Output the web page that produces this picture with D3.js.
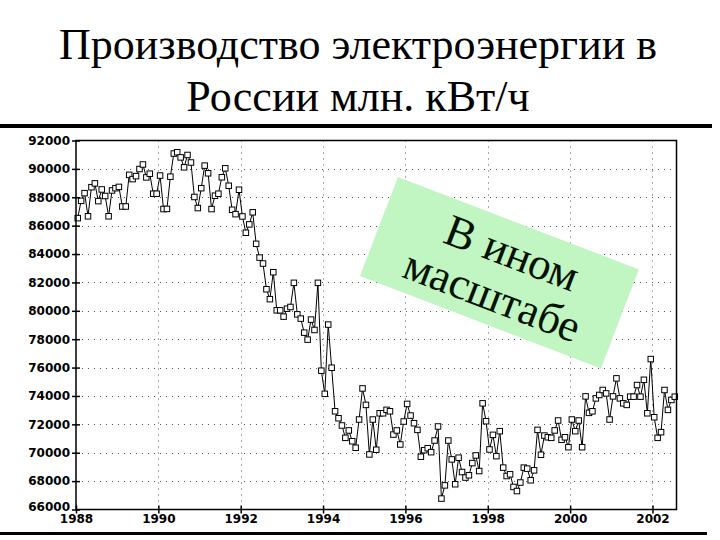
<!DOCTYPE html>
<html><head><meta charset="utf-8">
<script src="https://cdn.jsdelivr.net/npm/d3@7"></script>
<style>body{margin:0;background:#fff} svg{display:block}</style>
</head><body><svg id="c" width="720" height="540"></svg>
<script>
// Monthly data starting January 1988 (million kWh)
const startYear = 1988;
const values = [
 86530,87750,88290,86660,88710,88980,87730,88550,88090,86660,88480,88640,
 88730,87350,87350,89580,89280,89490,89990,90310,89400,89660,88250,88250,
 89530,87170,87180,89450,91080,91170,90810,90110,90980,90450,88020,87240,
 88640,90230,89690,87170,88110,88250,89410,90040,88810,87120,86810,88530,
 86650,85500,86090,86940,84720,83750,83330,81520,80820,82720,80035,80035,
 79590,80150,80270,81970,79750,79450,78460,77970,79380,78650,81970,75780,
 74150,79030,75990,72920,72430,71920,71050,71570,70810,70350,72340,74530,
 73370,69880,72340,70210,72780,72780,73020,72920,71280,71570,70580,72200,
 73440,72620,72080,71610,69720,70180,70320,70040,70860,71850,66770,67700,
 70860,69530,67780,69650,68640,68250,68410,69270,69810,68710,73480,72220,
 70230,71260,69760,71520,68950,68360,68480,67590,67300,67900,68950,68880,
 68060,68760,71610,69860,71210,71090,71050,71570,72270,70910,71090,70390,
 72340,71520,72270,70390,73970,72810,72920,73830,74070,74420,74180,72340,
 73970,75240,73830,73480,73370,73950,73950,74770,73950,75140,72780,76600,
 72500,71050,71450,74420,73020,73720,73950
];
const yTicks = [66000,68000,70000,72000,74000,76000,78000,80000,82000,84000,86000,88000,90000,92000];
const xTicks = [1988,1990,1992,1994,1996,1998,2000,2002];
const titleLines = ["Производство электроэнергии в", "России млн. кВт/ч"];
const noteLines = ["В ином", "масштабе"];

const data = values.map((v, i) => ({t: startYear + (i + 0.5) / 12, v}));

const svg = d3.select("#c");
const x = d3.scaleLinear().domain([1988, 2002 + 7/12]).range([76, 676.5]);
const y = d3.scaleLinear().domain([66000, 92000]).range([509.5, 140.5]);

// Title
svg.append("g").selectAll("text").data(titleLines).join("text")
  .attr("x", 358).attr("y", (d, i) => 59 + i * 52)
  .attr("text-anchor", "middle")
  .attr("font-family", "'Liberation Serif','Times New Roman',serif")
  .attr("font-size", 44).attr("fill", "#000").text(d => d);

// Rules
svg.append("line").attr("x1", 0).attr("x2", 712).attr("y1", 126).attr("y2", 126)
  .attr("stroke", "#000").attr("stroke-width", 4);
svg.append("line").attr("x1", 0).attr("x2", 707).attr("y1", 533.5).attr("y2", 533.5)
  .attr("stroke", "#000").attr("stroke-width", 3);

// Grid
const grid = svg.append("g").attr("stroke", "#555").attr("stroke-width", 1).attr("stroke-dasharray", "1,5");
grid.selectAll(".h").data(yTicks.slice(1, -1)).join("line")
  .attr("x1", x.range()[0]).attr("x2", x.range()[1])
  .attr("y1", d => Math.round(y(d)) + 0.5).attr("y2", d => Math.round(y(d)) + 0.5);
grid.selectAll(".v").data(xTicks.slice(1)).join("line")
  .attr("y1", y.range()[1]).attr("y2", y.range()[0])
  .attr("x1", d => Math.round(x(d)) + 0.5).attr("x2", d => Math.round(x(d)) + 0.5);

// Green note box
const note = svg.append("g").attr("transform", "translate(398,177) rotate(21)");
note.append("rect").attr("x", 0).attr("y", 0).attr("width", 258).attr("height", 106).attr("fill", "#c1f5c1");
note.selectAll("text").data(noteLines).join("text")
  .attr("x", (d, i) => i === 0 ? 64 : 38)
  .attr("y", (d, i) => i === 0 ? 45 : 92)
  .attr("font-family", "'Liberation Serif','Times New Roman',serif")
  .attr("font-size", 45).attr("fill", "#031203").text(d => d);

// Line
svg.append("path").datum(data)
  .attr("fill", "none").attr("stroke", "#000").attr("stroke-width", 1)
  .attr("d", d3.line().x(d => x(d.t)).y(d => y(d.v)));

// Markers
svg.append("g").selectAll("rect").data(data).join("rect")
  .attr("x", d => x(d.t) - 2.75).attr("y", d => y(d.v) - 2.75)
  .attr("width", 5.5).attr("height", 5.5)
  .attr("fill", "#fff").attr("stroke", "#000").attr("stroke-width", 1);

// Frame
svg.append("rect").attr("x", x.range()[0]).attr("y", y.range()[1])
  .attr("width", x.range()[1] - x.range()[0]).attr("height", y.range()[0] - y.range()[1])
  .attr("fill", "none").attr("stroke", "#000").attr("stroke-width", 1.5);

// Axes
const yAxis = svg.append("g").attr("transform", `translate(${x.range()[0]},0)`)
  .call(d3.axisLeft(y).tickValues(yTicks).tickFormat(d3.format("d")).tickSizeInner(4).tickSizeOuter(0).tickPadding(2));
yAxis.select(".domain").remove();
yAxis.selectAll(".tick line").attr("x1", 4).attr("x2", -4).attr("stroke-width", 1.5);
yAxis.selectAll("text").attr("font-family", "'DejaVu Sans',Verdana,sans-serif").attr("font-weight", "bold").attr("font-size", 12).attr("fill", "#000");
// bottom-most label sits just above the x labels, as in the reference
yAxis.selectAll(".tick").filter(d => d === 66000).select("text").attr("dy", "0.1em");

const xAxis = svg.append("g").attr("transform", `translate(0,${y.range()[0]})`)
  .call(d3.axisBottom(x).tickValues(xTicks).tickFormat(d3.format("d")).tickSizeInner(4).tickSizeOuter(0).tickPadding(1));
xAxis.select(".domain").remove();
xAxis.selectAll(".tick line").attr("y1", -4).attr("y2", 4).attr("stroke-width", 1.5);
xAxis.selectAll("text").attr("font-family", "'DejaVu Sans',Verdana,sans-serif").attr("font-weight", "bold").attr("font-size", 12).attr("fill", "#000");
</script>
</body></html>
